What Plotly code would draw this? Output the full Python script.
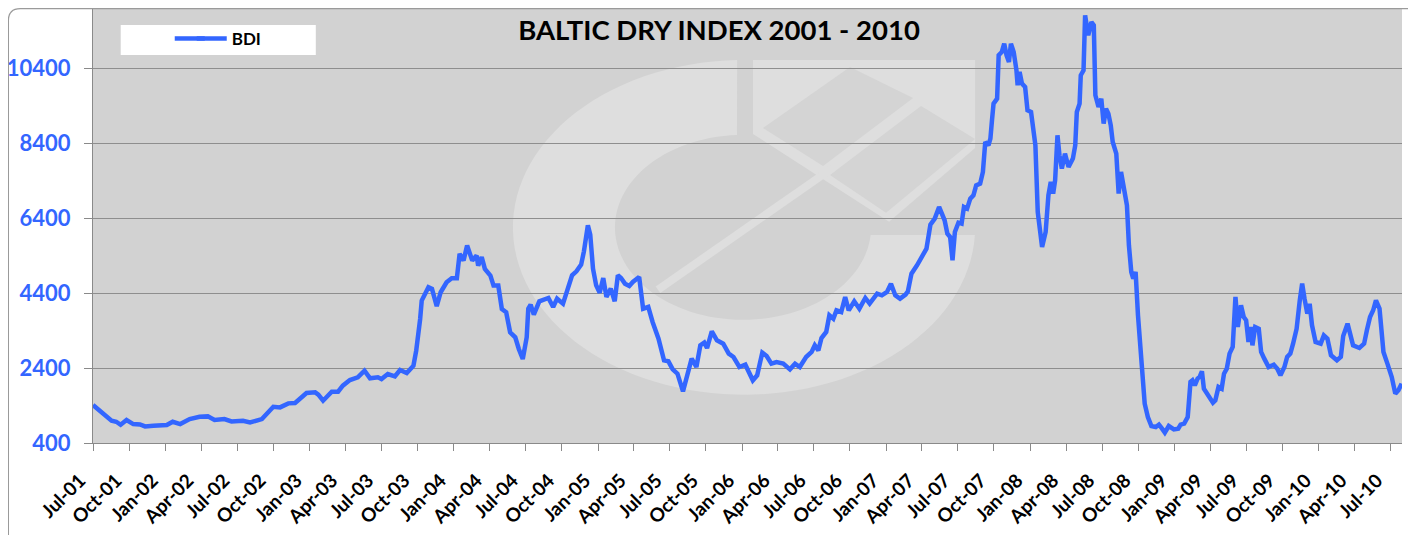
import numpy as np
import plotly.graph_objects as go

# ---------------- data ----------------
dates = [
    "2001-07-01", "2001-07-18", "2001-08-04", "2001-08-17", "2001-08-29", "2001-09-09", "2001-09-24",
    "2001-10-11", "2001-10-28", "2001-11-10", "2001-12-01", "2002-01-04", "2002-01-19", "2002-02-07",
    "2002-03-03", "2002-03-28", "2002-04-18", "2002-05-05", "2002-05-30", "2002-06-17", "2002-07-16",
    "2002-08-03", "2002-09-02", "2002-09-18", "2002-10-01", "2002-10-18", "2002-11-08", "2002-11-25",
    "2002-12-08", "2002-12-24", "2003-01-15", "2003-01-23", "2003-02-04", "2003-02-26", "2003-03-14",
    "2003-03-26", "2003-04-13", "2003-05-03", "2003-05-20", "2003-06-03", "2003-06-23", "2003-07-02",
    "2003-07-18", "2003-08-05", "2003-08-18", "2003-09-04", "2003-09-21", "2003-09-28", "2003-10-08",
    "2003-10-12", "2003-10-29", "2003-11-07", "2003-11-19", "2003-11-29", "2003-12-14", "2003-12-27",
    "2004-01-09", "2004-01-16", "2004-01-26", "2004-02-04", "2004-02-17", "2004-02-28", "2004-03-03",
    "2004-03-12", "2004-03-20", "2004-04-03", "2004-04-11", "2004-04-23", "2004-05-02", "2004-05-13",
    "2004-05-23", "2004-06-05", "2004-06-14", "2004-06-24", "2004-07-04",
    "2004-07-08", "2004-07-14", "2004-07-22", "2004-08-05", "2004-08-28", "2004-09-09", "2004-09-19",
    "2004-10-04", "2004-10-14", "2004-10-27", "2004-11-07", "2004-11-19", "2004-11-26", "2004-12-06",
    "2004-12-12", "2004-12-19", "2004-12-27", "2005-01-05", "2005-01-14", "2005-01-22", "2005-02-02",
    "2005-02-12", "2005-02-20", "2005-02-28", "2005-03-10", "2005-03-21", "2005-03-30", "2005-04-15",
    "2005-04-25", "2005-05-08", "2005-05-19", "2005-06-03", "2005-06-17", "2005-06-28", "2005-07-09",
    "2005-07-21", "2005-08-04", "2005-08-16", "2005-08-26", "2005-09-07", "2005-09-17", "2005-09-27",
    "2005-10-04", "2005-10-16", "2005-10-29", "2005-11-14", "2005-11-28", "2005-12-10", "2005-12-25",
    "2006-01-09", "2006-01-18", "2006-01-28", "2006-02-08", "2006-02-21", "2006-03-04", "2006-03-16",
    "2006-03-29", "2006-04-15", "2006-05-02", "2006-05-15", "2006-05-27", "2006-06-12", "2006-06-26",
    "2006-07-04", "2006-07-13", "2006-07-21", "2006-08-02", "2006-08-10", "2006-08-20", "2006-08-28",
    "2006-09-09", "2006-09-19", "2006-09-28", "2006-10-12", "2006-10-25", "2006-11-09", "2006-11-20",
    "2006-12-09", "2006-12-21", "2007-01-03", "2007-01-13", "2007-01-24", "2007-02-05", "2007-02-19",
    "2007-02-25", "2007-03-06", "2007-03-20", "2007-04-01", "2007-04-13", "2007-04-23", "2007-05-04",
    "2007-05-15",
    "2007-05-29", "2007-06-05", "2007-06-12", "2007-06-18", "2007-06-24", "2007-07-03", "2007-07-11",
    "2007-07-17", "2007-07-25", "2007-08-02", "2007-08-10", "2007-08-17", "2007-08-27", "2007-09-03",
    "2007-09-09", "2007-09-17", "2007-09-22", "2007-09-26", "2007-09-30", "2007-10-09", "2007-10-13",
    "2007-10-21", "2007-10-27", "2007-11-02", "2007-11-08", "2007-11-13", "2007-11-20", "2007-11-27",
    "2007-11-30", "2007-12-05", "2007-12-11", "2007-12-19", "2007-12-25", "2008-01-03", "2008-01-08",
    "2008-01-14", "2008-01-20", "2008-01-27", "2008-01-31", "2008-02-09", "2008-02-16", "2008-02-22",
    "2008-02-28", "2008-03-04", "2008-03-10", "2008-03-15", "2008-03-21", "2008-03-29", "2008-04-07",
    "2008-04-18", "2008-04-24", "2008-04-28", "2008-05-05", "2008-05-08", "2008-05-15", "2008-05-19",
    "2008-05-27", "2008-06-04", "2008-06-10", "2008-06-14", "2008-06-22", "2008-06-29", "2008-07-05",
    "2008-07-11", "2008-07-17", "2008-07-23", "2008-07-28", "2008-08-06", "2008-08-12", "2008-08-18",
    "2008-08-25", "2008-09-02", "2008-09-07", "2008-09-13", "2008-09-18", "2008-09-24", "2008-09-30",
    "2008-10-05", "2008-10-11", "2008-10-17", "2008-10-25", "2008-11-03", "2008-11-14", "2008-11-22",
    "2008-11-30", "2008-12-07", "2008-12-17", "2008-12-30", "2009-01-10", "2009-01-16", "2009-01-25",
    "2009-02-03", "2009-02-10", "2009-02-15", "2009-02-21", "2009-02-28", "2009-03-05", "2009-03-11",
    "2009-03-16", "2009-03-27", "2009-04-08", "2009-04-14", "2009-04-22", "2009-04-30", "2009-05-06",
    "2009-05-13", "2009-05-20", "2009-05-28", "2009-06-04", "2009-06-10", "2009-06-18", "2009-06-25",
    "2009-07-01", "2009-07-07", "2009-07-13", "2009-07-17", "2009-07-24", "2009-08-02", "2009-08-08",
    "2009-08-16", "2009-08-27", "2009-09-09", "2009-09-18", "2009-09-26", "2009-10-06", "2009-10-13",
    "2009-10-21", "2009-10-28", "2009-11-06", "2009-11-14", "2009-11-20", "2009-11-26", "2009-12-03",
    "2009-12-09", "2009-12-15", "2009-12-24", "2010-01-06", "2010-01-14", "2010-01-23", "2010-02-01",
    "2010-02-16", "2010-02-26", "2010-03-04", "2010-03-15", "2010-03-21", "2010-03-29", "2010-04-14",
    "2010-04-26", "2010-05-03", "2010-05-11", "2010-05-19", "2010-05-26", "2010-06-04", "2010-06-14",
    "2010-06-24", "2010-07-05", "2010-07-14", "2010-07-22", "2010-07-30",
]

bdi = [
    1412, 1261, 1083, 994, 967, 887, 1012,
    905, 896, 843, 860, 878, 967, 905,
    1038, 1101, 1110, 1012, 1038, 976, 994,
    949, 1038, 1198, 1367, 1350, 1457, 1466,
    1599, 1733, 1750, 1688, 1528, 1768, 1768,
    1928, 2080, 2151, 2329, 2124, 2151, 2106,
    2240, 2178, 2347, 2267, 2462, 2863, 3708,
    4198, 4554, 4510, 4047, 4420, 4687, 4794,
    4794, 5444, 5266, 5668, 5266, 5400, 5132,
    5355, 5043, 4865, 4598, 4598, 3975, 3886,
    3352, 3219, 2907, 2640, 3219,
    3982, 4089, 3822, 4178, 4267, 4027, 4249,
    4116, 4427, 4871, 4978, 5156, 5511, 6205,
    5956, 5049, 4605, 4409, 4800, 4294, 4516,
    4178, 4871, 4800, 4649, 4587, 4694, 4827,
    3982, 4027, 3627, 3182, 2604, 2578, 2364,
    2249, 1778, 2204, 2649, 2427, 3005, 3076,
    2933, 3378, 3138, 3049, 2782, 2693, 2427,
    2489, 2293, 2071, 2204, 2809, 2720, 2516,
    2560, 2516, 2364, 2516, 2427, 2693, 2827,
    3005, 2871, 3200, 3360, 3805, 3716, 3938,
    3894, 4294, 3938, 4178, 3982, 4267, 4116,
    4382, 4338, 4427, 4649, 4338, 4249, 4356,
    4445, 4916, 5138, 5360, 5582, 6223, 6383,
    6694,
    6339, 5983, 5894, 5272, 6028, 6276, 6250,
    6694, 6650, 6916, 7005, 7272, 7316, 7628,
    8428, 8339, 8517, 9006, 9450, 9583, 10739,
    10828, 11050, 10739, 10561, 11050, 10828, 10339,
    9939, 10295, 9983, 9894, 9272, 9228, 8739,
    8339, 6561, 5850, 5627, 6028, 7005, 7361,
    7050, 7405, 8605, 8072, 7716, 8117, 7761,
    7983, 8339, 9228, 9450, 10206, 10339, 11806,
    11272, 11628, 11539, 9672, 9361, 9583, 8917,
    9317, 9183, 8872, 8428, 8117, 7050, 7628,
    7183, 6739, 5672, 4961, 4783, 4961, 3805,
    3005, 2160, 1449, 1093, 853, 827, 889,
    782, 676, 853, 764, 782, 889, 916,
    1093, 2027, 2071, 1938, 2116, 2160, 2311,
    1849, 1671, 1476, 1538, 1894, 1849, 2249,
    2382, 2783, 2960, 4294, 3494, 4072, 3760,
    3672, 3094, 3494, 3005, 3494, 3449, 2827,
    2649, 2427, 2489, 2382, 2205, 2427, 2694,
    2783, 3049, 3449, 4205, 4649, 4249, 3849,
    4116, 3538, 3094, 3049, 3271, 3183, 2738,
    2605, 2694, 3254, 3583, 3271, 3005, 2934,
    3049, 3405, 3760, 3938, 4205, 3983, 2827,
    2516, 2160, 1716, 1805, 1983,
]

series_name = "BDI"
chart_title = "BALTIC DRY INDEX 2001 - 2010"
x_range = ["2001-07-01", "2010-07-31"]
y_range = [400, 12000]

# ---------------- layout geometry ----------------
# The page body has an 8px default margin, so the figure is offset by 8px;
# target positions below are given in page (screenshot) pixels.
OFF = 8
W, H = 1416 - OFF, 535 - OFF
L, R, T, B = 93.3, 1401.7, 8.0, 443.3   # plot area in page pixels


def px(x):
    return (x - L) / (R - L)


def py(y):
    return (B - y) / (B - T)


BG = "#d2d2d2"
LIGHT = "#dedede"
BLUE = "#3366ff"
FONT = "Lato"

fig = go.Figure()
fig.add_trace(go.Scatter(
    x=dates, y=bdi, mode="lines", name=series_name,
    line=dict(color=BLUE, width=4.5),
))

# ---------------- faint background emblem ----------------
def ellipse_pts(cx, cy, rx, ry, a0, a1, n=90):
    th = np.radians(np.linspace(a0, a1, n))
    return [(cx + rx * np.cos(t), cy - ry * np.sin(t)) for t in th]


outer = ellipse_pts(744, 227.5, 231, 167.5, 91.7, 357.4)
inner = ellipse_pts(743, 227.5, 128, 92.5, 355.3, 92.7)
ring = outer + inner


def path_from(pts):
    s = "M " + " L ".join(f"{px(x):.5f},{py(y):.5f}" for x, y in pts)
    return s + " Z"


shapes = []
shapes.append(dict(type="path", xref="paper", yref="paper", layer="below",
                   path=path_from(ring), fillcolor=LIGHT, line=dict(width=0)))
emblem = [(753, 60), (975, 60), (975, 148), (889, 222), (753, 134)]
shapes.append(dict(type="path", xref="paper", yref="paper", layer="below",
                   path=path_from(emblem), fillcolor=LIGHT, line=dict(width=0)))
for dia in ([(763, 128), (850, 67), (913, 98), (823, 166)],
            [(830, 175), (921, 106), (975, 139), (886, 213)]):
    shapes.append(dict(type="path", xref="paper", yref="paper", layer="below",
                       path=path_from(dia), fillcolor="#d4d4d4", line=dict(width=0)))
stripe = [(655.7, 286.7), (660.3, 293.3), (835, 171), (830, 165)]
shapes.append(dict(type="path", xref="paper", yref="paper", layer="below",
                   path=path_from(stripe), fillcolor=LIGHT, line=dict(width=0)))

# legend box and the longer legend line sample
shapes.append(dict(type="rect", xref="paper", yref="paper", layer="above",
                   x0=px(121), x1=px(316), y0=py(55), y1=py(25),
                   fillcolor="white", line=dict(width=0)))
shapes.append(dict(type="line", xref="paper", yref="paper", layer="above",
                   x0=px(175), x1=px(205), y0=py(38.5), y1=py(38.5),
                   line=dict(color=BLUE, width=4.5)))

# chart-area border (rounded corner at top-left)
bx, by, r = OFF + 0.7, OFF + 0.7, 12
border = (f"M {px(bx):.5f},{py(700):.5f} L {px(bx):.5f},{py(by + r):.5f} "
          f"Q {px(bx):.5f},{py(by):.5f} {px(bx + r):.5f},{py(by):.5f} "
          f"L {px(1600):.5f},{py(by):.5f}")
shapes.append(dict(type="path", xref="paper", yref="paper", path=border,
                   line=dict(color="#9a9a9a", width=1.3)))

fig.update_layout(
    width=W, height=H,
    margin=dict(l=L - OFF, r=W - (R - OFF), t=T - OFF, b=H - (B - OFF), autoexpand=False),
    paper_bgcolor="white", plot_bgcolor=BG,
    shapes=shapes,
    title=dict(text=chart_title, xref="paper", x=px(719), xanchor="center",
               yref="container", y=1 - (30 - OFF) / H, yanchor="middle",
               font=dict(family=FONT, size=27.5, color="black", weight="bold")),
    showlegend=True,
    legend=dict(x=px(192), y=py(39), xanchor="left", yanchor="middle",
                bgcolor="rgba(0,0,0,0)", borderwidth=0,
                font=dict(family=FONT, size=17, color="black", weight="bold")),
    xaxis=dict(type="date", range=x_range, tick0=x_range[0], dtick="M3",
               tickformat="%b-%y", tickangle=-45, ticks="outside", ticklen=7,
               tickcolor="#8a8a8a", showline=True, linecolor="#8a8a8a", linewidth=1,
               showgrid=False, zeroline=False, ticklabelstandoff=11,
               ticklabelshift=-13,
               tickfont=dict(family=FONT, size=19, color="black", weight="bold")),
    yaxis=dict(range=y_range, tick0=400, dtick=2000, tickformat="d",
               ticks="outside", ticklen=8,
               tickcolor="#8a8a8a", showline=True, linecolor="#8a8a8a", linewidth=1,
               showgrid=True, gridcolor="#8e8e8e", gridwidth=1, zeroline=False,
               ticklabelstandoff=9,
               tickfont=dict(family=FONT, size=22, color=BLUE, weight="bold")),
)

fig.write_html("out.html")
